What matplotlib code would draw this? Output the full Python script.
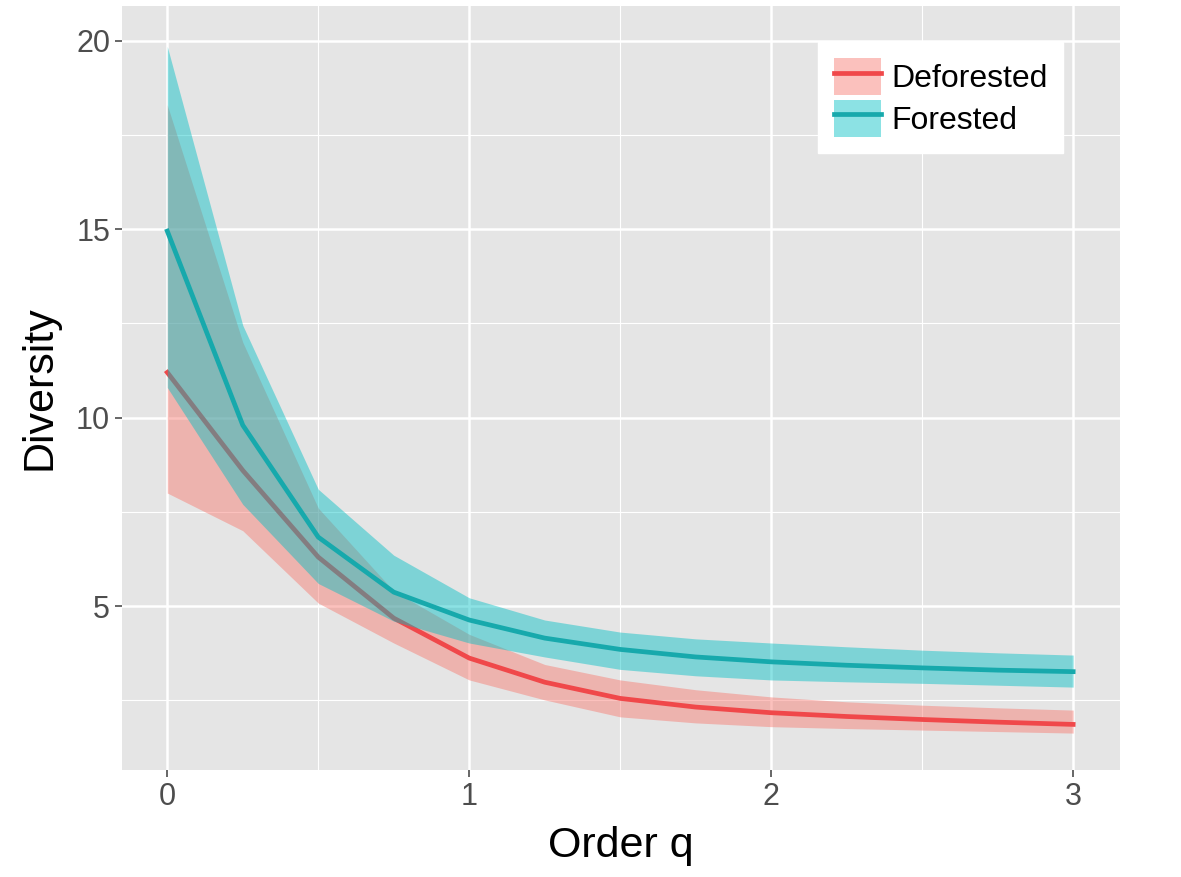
import numpy as np
import matplotlib.pyplot as plt

# values
q = [0, 0.25, 0.5, 0.75, 1.0, 1.25, 1.5, 1.75, 2.0, 2.25, 2.5, 2.75, 3.0]

defo_mid = [11.2, 8.6, 6.3, 4.68, 3.62, 2.98, 2.55, 2.32, 2.17, 2.07, 1.99, 1.92, 1.86]
defo_lo = [8.0, 7.0, 5.08, 4.02, 3.04, 2.51, 2.06, 1.90, 1.80, 1.75, 1.71, 1.67, 1.63]
defo_hi = [18.3, 12.0, 7.6, 5.4, 4.25, 3.45, 3.04, 2.78, 2.59, 2.46, 2.37, 2.30, 2.24]

fore_mid = [14.95, 9.8, 6.83, 5.37, 4.63, 4.15, 3.85, 3.65, 3.52, 3.43, 3.36, 3.30, 3.26]
fore_lo = [10.8, 7.7, 5.6, 4.6, 4.02, 3.65, 3.32, 3.15, 3.04, 2.99, 2.95, 2.90, 2.85]
fore_hi = [19.85, 12.45, 8.1, 6.35, 5.22, 4.63, 4.31, 4.13, 4.02, 3.92, 3.83, 3.76, 3.70]

groups = ["Deforested", "Forested"]
band_cols = ["#F8766D", "#00BFC4"]
line_cols = ["#F0484A", "#17A9AC"]

plt.rcParams['font.family'] = ['Liberation Sans', 'DejaVu Sans']

fig = plt.figure(figsize=(11.81, 8.77), dpi=100)
ax = fig.add_axes([0.1033, 0.122, 0.845, 0.871])
ax.set_facecolor('#E5E5E5')

# grid like ggplot
for v in [2.5, 7.5, 12.5, 17.5]:
    ax.axhline(v, color='white', lw=0.8, zorder=0)
for v in [5, 10, 15, 20]:
    ax.axhline(v, color='white', lw=1.8, zorder=0)
for v in [0.5, 1.5, 2.5]:
    ax.axvline(v, color='white', lw=0.8, zorder=0)
for v in [0, 1, 2, 3]:
    ax.axvline(v, color='white', lw=1.8, zorder=0)

# each group: band then line, second group drawn over the first
handles = []
z = 2
for name, lo, hi, mid, bc, lc in zip(groups, [defo_lo, fore_lo], [defo_hi, fore_hi],
                                     [defo_mid, fore_mid], band_cols, line_cols):
    band = ax.fill_between(q, lo, hi, color=bc, alpha=0.45, lw=0, zorder=z)
    line, = ax.plot(q, mid, color=lc, lw=3.4, zorder=z + 1)
    handles.append((band, line))
    z += 2

ax.set_xlim(-0.15, 3.155)
ax.set_ylim(0.65, 20.92)
ax.set_xticks([0, 1, 2, 3])
ax.set_yticks([5, 10, 15, 20])
ax.tick_params(axis='both', labelsize=22, colors='#4D4D4D', length=5, width=1.2,
               labelcolor='#4D4D4D')
for s in ax.spines.values():
    s.set_visible(False)

ax.set_xlabel("Order q", fontsize=31, labelpad=10)
ax.set_ylabel("Diversity", fontsize=31, labelpad=12)

leg = ax.legend(handles, groups, loc='upper left', bbox_to_anchor=(0.697, 0.953),
                borderaxespad=0, fontsize=23, frameon=True, fancybox=False,
                framealpha=1, handlelength=1.5, handleheight=1.4, handletextpad=0.3,
                labelspacing=0.15, borderpad=0.5)
leg.get_frame().set_facecolor('white')
leg.get_frame().set_edgecolor('white')

fig.savefig("out.png", dpi=100)
